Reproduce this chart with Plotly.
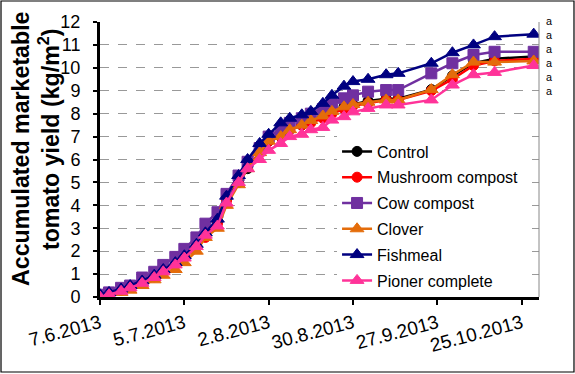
import plotly.graph_objects as go

dates = ["2013-06-07", "2013-06-10", "2013-06-14", "2013-06-17", "2013-06-21", "2013-06-25",
         "2013-06-28", "2013-07-02", "2013-07-05", "2013-07-09", "2013-07-12", "2013-07-16",
         "2013-07-19", "2013-07-23", "2013-07-26", "2013-07-30", "2013-08-02", "2013-08-06",
         "2013-08-09", "2013-08-13", "2013-08-16", "2013-08-20", "2013-08-23", "2013-08-27",
         "2013-08-30", "2013-09-04", "2013-09-10", "2013-09-14", "2013-09-25", "2013-10-02",
         "2013-10-09", "2013-10-16", "2013-10-29"]

control = [0.05, 0.15, 0.3, 0.45, 0.65, 0.9, 1.15, 1.45, 1.75, 2.25, 2.7, 3.3, 4.3, 5.0, 5.6, 6.3,
           6.8, 7.0, 7.3, 7.5, 7.7, 7.9, 8.1, 8.3, 8.4, 8.55, 8.65, 8.65, 9.05, 9.65, 10.2, 10.4, 10.5]
mushroom = [0.05, 0.12, 0.28, 0.42, 0.62, 0.88, 1.12, 1.42, 1.72, 2.2, 2.6, 3.2, 4.2, 5.0, 5.7, 6.3,
            6.8, 7.0, 7.3, 7.5, 7.6, 7.8, 8.0, 8.2, 8.35, 8.45, 8.6, 8.6, 9.0, 9.5, 10.1, 10.3, 10.4]
cow = [0.1, 0.2, 0.4, 0.5, 0.85, 1.1, 1.4, 1.75, 2.1, 2.6, 3.2, 3.7, 4.5, 5.3, 5.9, 6.5,
       7.0, 7.3, 7.6, 7.8, 8.0, 8.2, 8.4, 8.67, 8.8, 8.96, 9.03, 9.03, 9.76, 10.2, 10.56, 10.7, 10.7]
clover = [0.0, 0.05, 0.2, 0.3, 0.5, 0.75, 0.95, 1.2, 1.5, 2.0, 2.6, 3.0, 4.0, 4.9, 5.6, 6.3,
          6.8, 7.0, 7.3, 7.5, 7.7, 7.9, 8.1, 8.3, 8.4, 8.5, 8.6, 8.6, 9.05, 9.7, 10.25, 10.25, 10.3]
fishmeal = [0.1, 0.2, 0.35, 0.5, 0.7, 0.95, 1.2, 1.5, 1.8, 2.3, 2.8, 3.4, 4.4, 5.3, 6.0, 6.7,
            7.1, 7.6, 7.8, 7.95, 8.1, 8.45, 8.8, 9.2, 9.4, 9.5, 9.7, 9.76, 10.2, 10.66, 11.0, 11.36, 11.47]
pioner = [0.0, 0.1, 0.25, 0.4, 0.6, 0.85, 1.1, 1.4, 1.7, 2.2, 2.7, 3.1, 4.1, 5.0, 5.6, 6.0,
          6.4, 6.7, 7.0, 7.1, 7.3, 7.4, 7.72, 7.87, 8.08, 8.23, 8.38, 8.38, 8.6, 9.25, 9.7, 9.8, 10.1]

series_names = ["Control", "Mushroom compost", "Cow compost", "Clover", "Fishmeal", "Pioner complete"]
series_values = [control, mushroom, cow, clover, fishmeal, pioner]
colors = ["#000000", "#FF0000", "#7030A0", "#E46C0A", "#000080", "#FF3399"]
symbols = ["circle", "circle", "square", "triangle-up", "triangle-up", "triangle-up"]
sizes = [10, 10, 11, 12, 12, 12]

tick_dates = ["2013-06-07", "2013-07-05", "2013-08-02", "2013-08-30", "2013-09-27", "2013-10-25"]
tick_labels = ["7.6.2013", "5.7.2013", "2.8.2013", "30.8.2013", "27.9.2013", "25.10.2013"]
y_ticks = list(range(0, 13))
sig_letters = ["a", "a", "a", "a", "a", "a"]

FONT = "Arial, Liberation Sans, sans-serif"

fig = go.Figure()
for name, vals, c, s, sz in zip(series_names, series_values, colors, symbols, sizes):
    fig.add_trace(go.Scatter(
        x=dates, y=vals, name=name, mode="lines+markers", legendgroup=name,
        line=dict(color=c, width=2.5),
        marker=dict(symbol=s, size=sz, color=c, line=dict(color=c, width=1)),
    ))

fig.add_annotation(x=1.023, xref="paper", y=0.876, yref="paper", text="<br>".join(sig_letters),
                   showarrow=False, xanchor="center", yanchor="middle", align="center",
                   font=dict(family=FONT, size=10.8, color="#000"))

# y-axis title as two rotated lines
fig.add_annotation(x=-0.180, xref="paper", y=(297 - 148) / 275, yref="paper", textangle=-90,
                   text="<b>Accumulated marketable</b>",
                   showarrow=False, xanchor="center", yanchor="middle",
                   font=dict(family=FONT, size=23.2, color="#000"))
fig.add_annotation(x=-0.116, xref="paper", y=(297 - 139) / 275, yref="paper", textangle=-90,
                   text="<b>tomato yield (kg/m<sup>2</sup>)</b>",
                   showarrow=False, xanchor="center", yanchor="middle",
                   font=dict(family=FONT, size=23.2, color="#000"))

# outer chart border
fig.add_shape(type="rect", xref="paper", yref="paper", x0=-0.2255, x1=1.0797, y0=-0.2727, y1=1.0764,
              line=dict(color="#000", width=1.2), fillcolor="rgba(0,0,0,0)", layer="above")
# plot area right border
fig.add_shape(type="line", xref="paper", yref="paper", x0=1, x1=1, y0=0, y1=1,
              line=dict(color="#888", width=1))

fig.update_layout(
    width=575, height=374,
    margin=dict(l=100, r=36, t=22, b=77),
    paper_bgcolor="white", plot_bgcolor="white",
    font=dict(family=FONT, color="#000"),
    showlegend=True,
    legend=dict(x=0.540, y=0.591, xanchor="left", yanchor="top", bgcolor="white",
                font=dict(family=FONT, size=16, color="#000"), tracegroupgap=2,
                borderwidth=0),
    xaxis=dict(type="date", range=["2013-06-07", "2013-10-30 18:00"], automargin=False,
               tickvals=tick_dates, ticktext=tick_labels, tickangle=-15,
               tickfont=dict(family=FONT, size=19, color="#000"),
               showgrid=False, zeroline=False, showline=True, linecolor="#000", linewidth=3,
               ticks="outside", ticklen=5, tickwidth=2, tickcolor="#000"),
    yaxis=dict(range=[0, 12], tickvals=y_ticks, automargin=False,
               tickfont=dict(family=FONT, size=18, color="#000"), ticklabelstandoff=9,
               showgrid=True, gridcolor="#999", griddash="dash", gridwidth=1,
               zeroline=False, showline=True, linecolor="#000", linewidth=3,
               ticks="outside", ticklen=4, tickwidth=2, tickcolor="#000"),
)

fig.write_html("out.html", config={"displayModeBar": False},
               post_script="document.body.style.margin='0';document.body.style.overflow='hidden';")
